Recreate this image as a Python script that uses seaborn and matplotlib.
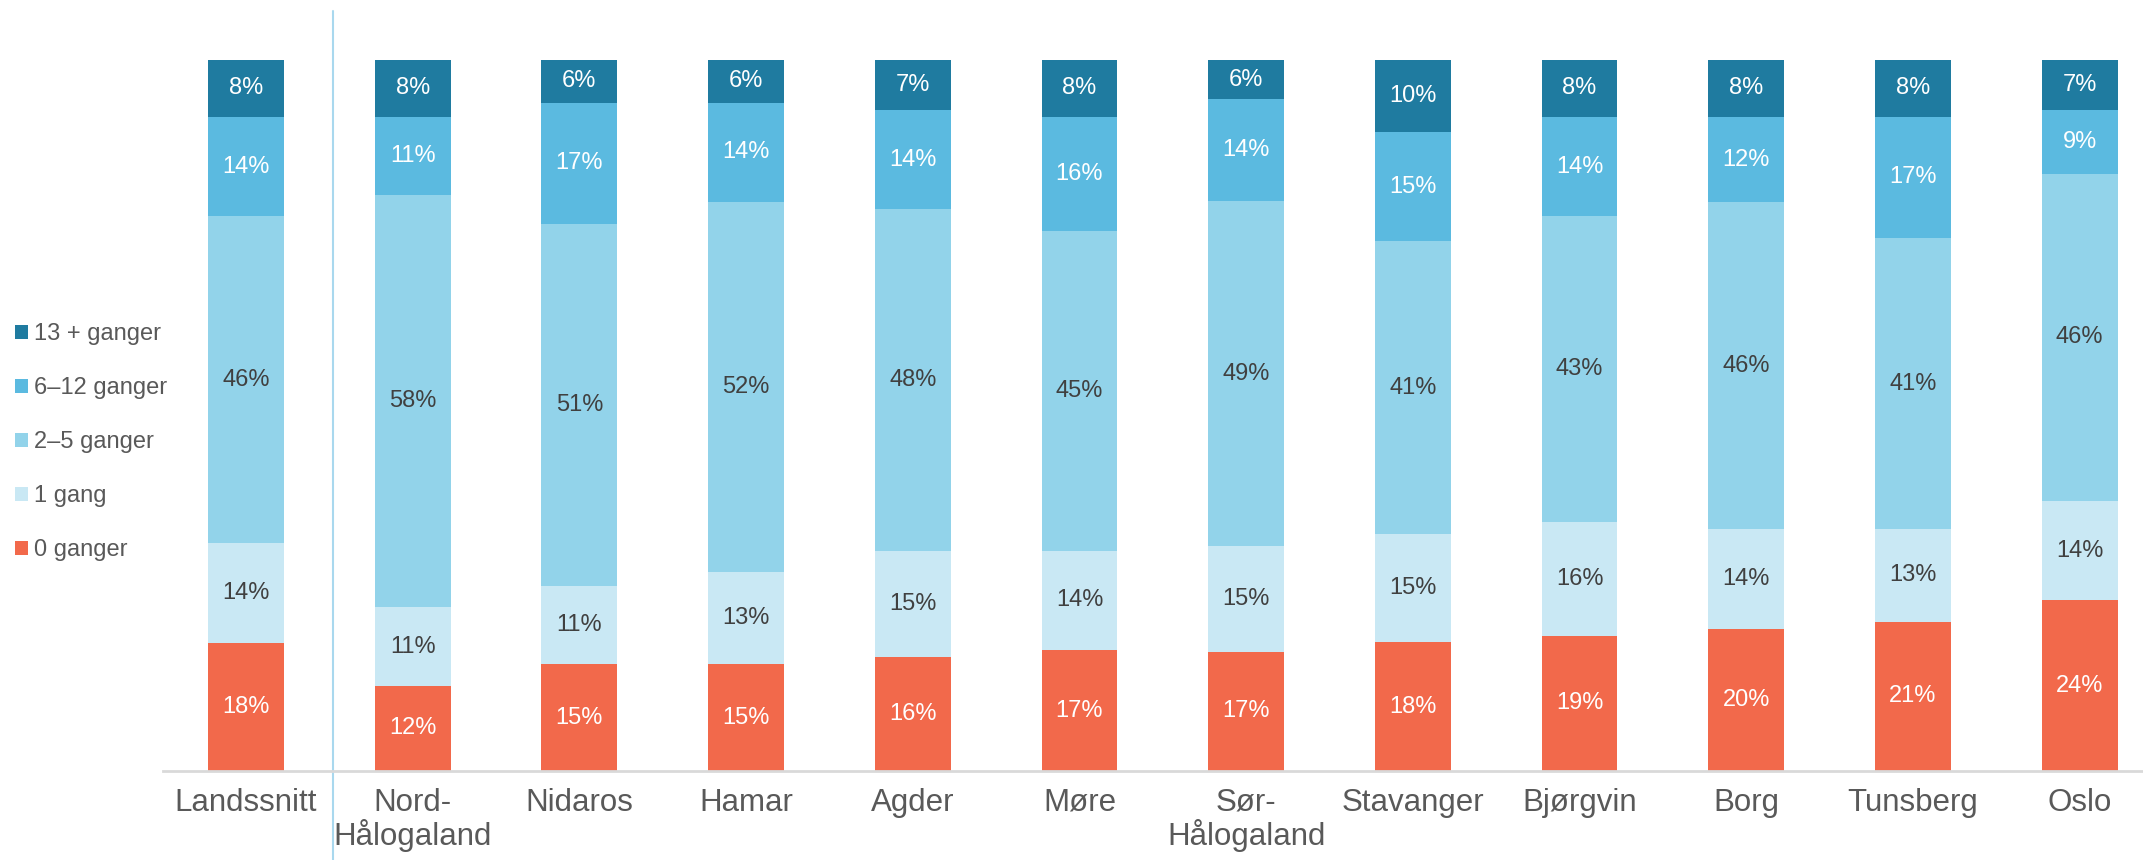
import numpy as np
import matplotlib
matplotlib.use("Agg")
import matplotlib.pyplot as plt
from matplotlib.patches import Patch
import seaborn as sns

# data (percent)
regions = ["Landssnitt", "Nord-\nHålogaland", "Nidaros", "Hamar", "Agder", "Møre",
           "Sør-\nHålogaland", "Stavanger", "Bjørgvin", "Borg", "Tunsberg", "Oslo"]
g0 = [18, 12, 15, 15, 16, 17, 16.8, 18.1, 19, 20, 21, 24]
g1 = [14, 11, 11, 13, 15, 14, 14.8, 15.2, 16, 14, 13, 14]
g2_5 = [46, 58, 51, 52, 48, 45, 48.6, 41.2, 43, 46, 41, 46]
g6_12 = [14, 11, 17, 14, 14, 16, 14.3, 15.4, 14, 12, 17, 9]
g13 = [8, 8, 6, 6, 7, 8, 5.6, 10.1, 8, 8, 8, 7]
series_names = ["0 ganger", "1 gang", "2–5 ganger", "6–12 ganger", "13 + ganger"]

colors = ["#F2694B", "#C9E8F4", "#92D3EA", "#5BBAE0", "#1F7BA0"]
text_cols = ["white", "#404040", "#404040", "white", "white"]
grey = "#595959"

sns.set_theme(style="white")
plt.rcParams["font.family"] = ["Liberation Sans", "DejaVu Sans"]

fig = plt.figure(figsize=(21.43, 8.6), dpi=100)
ax = fig.add_axes([162.6 / 2143, 89 / 860, 1 - 162.6 / 2143, 711 / 860])

bottom = np.zeros(len(regions))
for vals, col, tc in zip([g0, g1, g2_5, g6_12, g13], colors, text_cols):
    vals = np.array(vals, dtype=float)
    sns.barplot(x=regions, y=vals, bottom=bottom, color=col, width=0.455,
                saturation=1, ax=ax, linewidth=0)
    ax.bar_label(ax.containers[-1], labels=[f"{v:.0f}%" for v in vals],
                 label_type="center", color=tc, fontsize=17)
    bottom += vals

ax.set_xlim(-0.5, 11.38)
ax.set_ylim(0, 100)
ax.set_yticks([])
ax.set_ylabel("")
for s in ["top", "right", "left"]:
    ax.spines[s].set_visible(False)
ax.spines["bottom"].set_color("#D9D9D9")
ax.spines["bottom"].set_linewidth(2)
ax.tick_params(axis="x", length=0, pad=12, labelsize=22.5, labelcolor=grey)
for lbl in ax.get_xticklabels():
    lbl.set_linespacing(1.05)

# separator between national average and dioceses
ax.axvline(0.52, ymin=-0.125, ymax=1.069, color="#A9D8EE", lw=1.5, clip_on=False)

handles = [Patch(facecolor=c, edgecolor="none") for c in colors][::-1]
fig.legend(handles, series_names[::-1], loc="upper left",
           bbox_to_anchor=(15 / 2143, 1 - 323 / 860), frameon=False,
           fontsize=17, labelcolor=grey, handlelength=0.55, handleheight=0.55,
           handletextpad=0.25, labelspacing=1.36, borderpad=0, borderaxespad=0)

fig.savefig("out.png", dpi=100)
